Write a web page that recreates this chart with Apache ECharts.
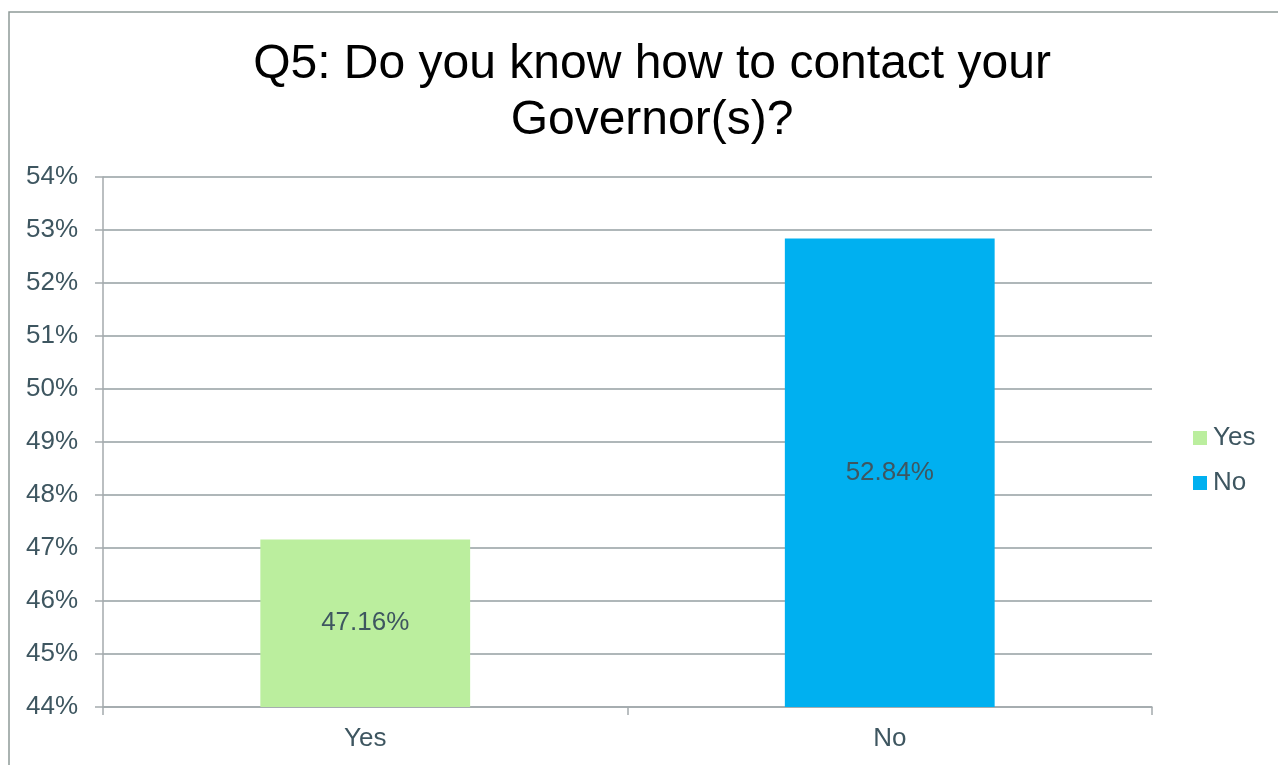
<!DOCTYPE html>
<html>
<head>
<meta charset="utf-8">
<script src="https://cdn.jsdelivr.net/npm/echarts@6/dist/echarts.min.js"></script>
<style>
  html, body { margin: 0; padding: 0; background: #ffffff; }
  #chart { width: 1278px; height: 765px; }
</style>
</head>
<body>
<div id="chart"></div>
<script>
// Survey question and answers
const titleText = 'Q5: Do you know how to contact your\nGovernor(s)?';
const categories = ['Yes', 'No'];
const seriesNames = ['Yes', 'No'];
const shares = [47.16, 52.84];          // percent of respondents
const barColors = ['#BBEE9E', '#00B0F0'];
const axisMin = 44;
const axisMax = 54;
const axisStep = 1;

const textColor = '#3E5660';
const fontFamily = 'Arial, "Liberation Sans", sans-serif';

const chart = echarts.init(document.getElementById('chart'));

// One series per answer so each gets its own legend entry; stacked so
// both bars sit centred on their own category.
const series = seriesNames.map((name, i) => ({
  name: name,
  type: 'bar',
  stack: 'answers',
  barWidth: '40%',
  data: categories.map((c, j) => (j === i ? shares[i] : null)),
  itemStyle: { color: barColors[i] },
  label: {
    show: true,
    position: 'inside',
    formatter: p => p.value.toFixed(2) + '%',
    color: textColor,
    fontSize: 26,
    fontFamily: fontFamily
  }
}));

chart.setOption({
  animation: false,
  backgroundColor: '#ffffff',
  title: {
    text: titleText,
    left: 647,
    top: 32,
    textAlign: 'center',
    textStyle: {
      color: '#000000',
      fontSize: 48,
      fontWeight: 'normal',
      fontFamily: fontFamily,
      lineHeight: 56
    }
  },
  legend: {
    orient: 'vertical',
    left: 1188,
    top: 420,
    itemWidth: 14,
    itemHeight: 14,
    itemGap: 19,
    icon: 'rect',
    data: seriesNames,
    textStyle: { color: textColor, fontSize: 26, fontFamily: fontFamily, padding: [0, 0, 0, 1] }
  },
  grid: { left: 103, right: 126, top: 177, bottom: 58 },
  xAxis: {
    type: 'category',
    data: categories,
    axisLine: { lineStyle: { color: '#A4AAAD', width: 1.5 } },
    axisTick: { show: true, length: 8, lineStyle: { color: '#A4AAAD', width: 1.5 } },
    axisLabel: { color: textColor, fontSize: 26, fontFamily: fontFamily, margin: 19 }
  },
  yAxis: {
    type: 'value',
    min: axisMin,
    max: axisMax,
    interval: axisStep,
    axisLine: { show: true, lineStyle: { color: '#A4AAAD', width: 1.5 } },
    axisTick: { show: true, length: 8, lineStyle: { color: '#A4AAAD', width: 1.5 } },
    axisLabel: {
      color: textColor,
      fontSize: 26,
      fontFamily: fontFamily,
      margin: 25,
      formatter: v => v + '%'
    },
    splitLine: { lineStyle: { color: '#959FA2', width: 1.5 } }
  },
  graphic: [{
    type: 'rect',
    shape: { x: 9, y: 12, width: 1300, height: 800 },
    style: { fill: 'none', stroke: '#8E9A98', lineWidth: 1.5 },
    silent: true,
    z: -1
  }],
  series: series
});
</script>
</body>
</html>
